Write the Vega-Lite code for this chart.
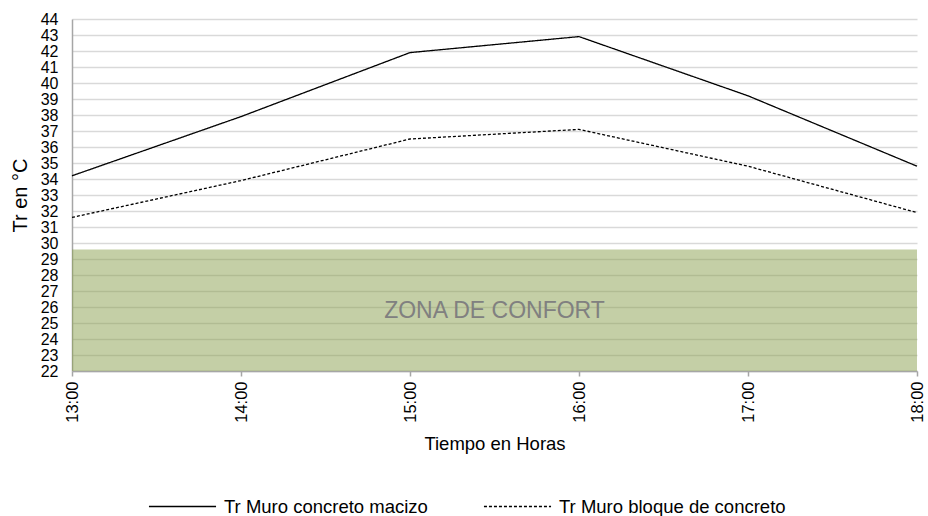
{
  "$schema": "https://vega.github.io/schema/vega-lite/v6.json",
  "width": 845,
  "height": 352,
  "autosize": {"type": "none"},
  "padding": {"left": 72, "top": 19, "right": 11, "bottom": 145},
  "background": "white",
  "config": {
    "font": "Liberation Sans",
    "view": {"stroke": null}
  },
  "datasets": {
    "series": [
      {"hora": 13, "serie": "Tr Muro concreto macizo", "tr": 34.2},
      {"hora": 14, "serie": "Tr Muro concreto macizo", "tr": 37.9},
      {"hora": 15, "serie": "Tr Muro concreto macizo", "tr": 41.9},
      {"hora": 16, "serie": "Tr Muro concreto macizo", "tr": 42.9},
      {"hora": 17, "serie": "Tr Muro concreto macizo", "tr": 39.2},
      {"hora": 18, "serie": "Tr Muro concreto macizo", "tr": 34.8},
      {"hora": 13, "serie": "Tr Muro bloque de concreto", "tr": 31.6},
      {"hora": 14, "serie": "Tr Muro bloque de concreto", "tr": 33.9},
      {"hora": 15, "serie": "Tr Muro bloque de concreto", "tr": 36.5},
      {"hora": 16, "serie": "Tr Muro bloque de concreto", "tr": 37.1},
      {"hora": 17, "serie": "Tr Muro bloque de concreto", "tr": 34.8},
      {"hora": 18, "serie": "Tr Muro bloque de concreto", "tr": 31.9}
    ],
    "zona": [
      {"hora": 13, "hora2": 18, "tr": 22, "tr2": 29.6}
    ],
    "etiqueta": [
      {"hora": 15.5, "tr": 25.75, "label": "ZONA DE CONFORT"}
    ]
  },
  "encoding": {
    "x": {
      "field": "hora",
      "type": "quantitative",
      "scale": {"domain": [13, 18], "nice": false, "zero": false},
      "axis": {
        "values": [13, 14, 15, 16, 17, 18],
        "labelExpr": "datum.value + ':00'",
        "labelAngle": 270,
        "labelFontSize": 16.5,
        "labelColor": "#000000",
        "labelPadding": 5,
        "grid": false,
        "domainColor": "#a6a6a6",
        "domainWidth": 1.5,
        "tickColor": "#a6a6a6",
        "tickSize": 5,
        "tickWidth": 1.5,
        "title": "Tiempo en Horas",
        "titleFontSize": 18.5,
        "titleFontWeight": "normal",
        "titleColor": "#000000",
        "titlePadding": 12
      }
    },
    "y": {
      "field": "tr",
      "type": "quantitative",
      "scale": {"domain": [22, 44], "nice": false, "zero": false},
      "axis": {
        "values": [22, 23, 24, 25, 26, 27, 28, 29, 30, 31, 32, 33, 34, 35, 36, 37, 38, 39, 40, 41, 42, 43, 44],
        "labelOverlap": false,
        "labelFontSize": 16,
        "labelColor": "#000000",
        "labelPadding": 14,
        "ticks": false,
        "grid": true,
        "gridColor": "#d9d9d9",
        "gridWidth": 1.6,
        "domainColor": "#a6a6a6",
        "domainWidth": 1.5,
        "title": "Tr en °C",
        "titleFontSize": 20,
        "titleFontWeight": "normal",
        "titleColor": "#000000",
        "titlePadding": 10
      }
    }
  },
  "layer": [
    {
      "data": {"name": "zona"},
      "mark": {"type": "rect", "color": "#899f4d", "opacity": 0.5},
      "encoding": {
        "x2": {"field": "hora2"},
        "y2": {"field": "tr2"}
      }
    },
    {
      "data": {"name": "series"},
      "mark": {"type": "line", "color": "black", "strokeWidth": 1.3},
      "encoding": {
        "strokeDash": {
          "field": "serie",
          "type": "nominal",
          "scale": {
            "domain": ["Tr Muro concreto macizo", "Tr Muro bloque de concreto"],
            "range": [[1, 0], [3, 2]]
          },
          "legend": {
            "orient": "none",
            "legendX": 76,
            "legendY": 453,
            "direction": "horizontal",
            "title": null,
            "symbolType": "stroke",
            "symbolSize": 4500,
            "symbolStrokeColor": "black",
            "symbolStrokeWidth": 1.3,
            "labelFontSize": 18.5,
            "labelColor": "#000000",
            "columnPadding": 53,
            "labelOffset": 7,
            "labelLimit": 400
          }
        }
      }
    },
    {
      "data": {"name": "etiqueta"},
      "mark": {"type": "text", "fontSize": 23, "color": "#808080", "align": "center", "baseline": "middle"},
      "encoding": {
        "text": {"field": "label"}
      }
    }
  ]
}
